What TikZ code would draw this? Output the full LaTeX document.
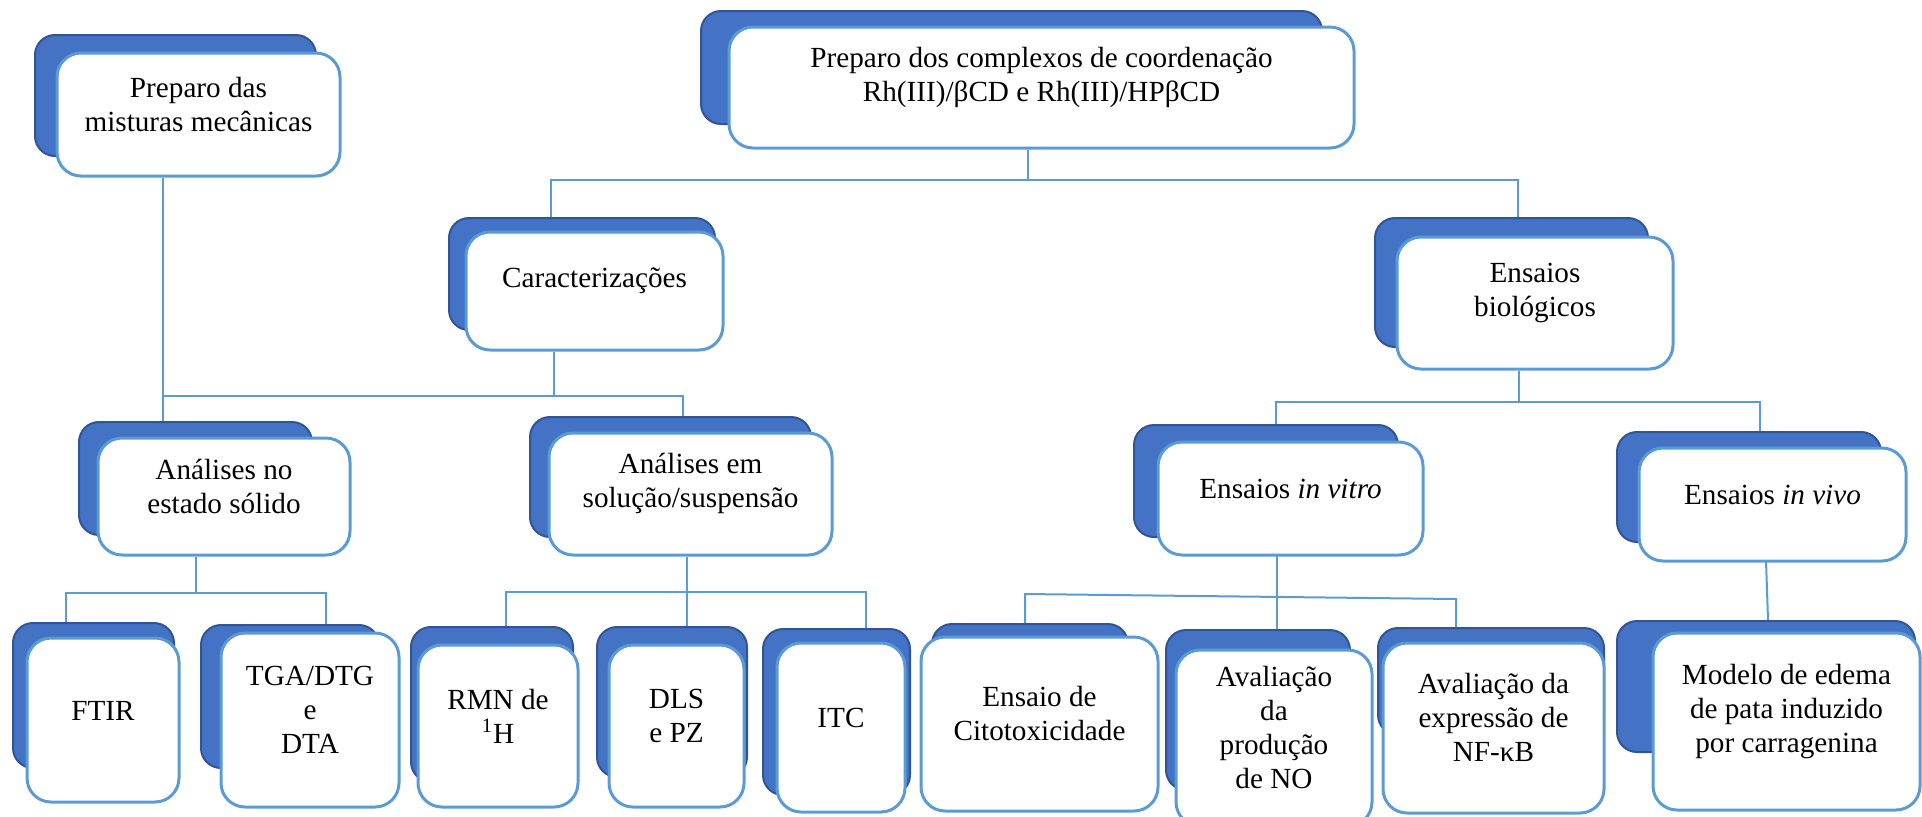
\documentclass[tikz,border=0pt]{standalone}
\usepackage{fontspec}
\setmainfont{Liberation Serif}
\usetikzlibrary{fit}
\definecolor{backblue}{HTML}{4472C4}
\definecolor{backedge}{HTML}{2F5597}
\definecolor{cardedge}{HTML}{5B9BD5}
\tikzset{x=0.5pt, y=-0.5pt,
    every node/.style={
        font=\fontsize{14.6}{17}\selectfont},
    back/.style={
        fill=backblue,
        draw=backedge,
        line width=1pt,
        rounded corners=10pt,
        inner sep=0pt},
    card/.style={
        fill=white,
        draw=cardedge,
        line width=1.5pt,
        rounded corners=12pt,
        inner sep=0pt,
        align=center},
    link/.style={
        draw=cardedge,
        line width=1pt}}

\begin{document}
\begin{tikzpicture}
        \useasboundingbox (0,0) rectangle (1922,816);
        \node[back, fit={(35,35) (316,156)}] (mixB) {};
        \node[card, fit={(57,53) (340,176)}] (mix) {Preparo das\\misturas mecânicas};
        \node[back, fit={(701,11) (1322,124)}] (prepB) {};
        \node[card, fit={(729,27) (1354,148)}] (prep) {Preparo dos complexos de coordenação\\Rh(III)/βCD e Rh(III)/HPβCD};
        \node[back, fit={(449,218) (715,330)}] (caracB) {};
        \node[card, fit={(466,232) (723,350)}] (carac) {Caracterizações};
        \node[back, fit={(1375,218) (1648,347)}] (bioB) {};
        \node[card, fit={(1397,237) (1673,369)}] (bio) {Ensaios\\biológicos};
        \node[back, fit={(79,422) (312,535)}] (solidoB) {};
        \node[card, fit={(98,438) (350,555)}] (solido) {Análises no\\estado sólido};
        \node[back, fit={(530,417) (811,537)}] (solucaoB) {};
        \node[card, fit={(549,433) (832,555)}] (solucao) {Análises em\\solução/suspensão};
        \node[back, fit={(1134,425) (1398,537)}] (vitroB) {};
        \node[card, fit={(1158,442) (1423,555)}] (vitro) {Ensaios \textit{in vitro}};
        \node[back, fit={(1617,432) (1881,542)}] (vivoB) {};
        \node[card, fit={(1639,448) (1906,561)}] (vivo) {Ensaios \textit{in vivo}};
        \node[back, fit={(13,623) (174,768)}] (ftirB) {};
        \node[card, fit={(27,638) (179,802)}] (ftir) {FTIR};
        \node[back, fit={(201,625) (379,768)}] (tgaB) {};
        \node[card, fit={(221,633) (399,807)}] (tga) {TGA/DTG\\e\\DTA};
        \node[back, fit={(411,627) (573,782)}] (rmnB) {};
        \node[card, fit={(418,645) (578,807)}] (rmn) {RMN de\\\textsuperscript{1}H};
        \node[back, fit={(597,627) (747,777)}] (dlsB) {};
        \node[card, fit={(609,645) (744,807)}] (dls) {DLS\\e PZ};
        \node[back, fit={(763,629) (910,795)}] (itcB) {};
        \node[card, fit={(777,643) (905,812)}] (itc) {ITC};
        \node[back, fit={(932,624) (1128,760)}] (citoB) {};
        \node[card, fit={(921,637) (1158,811)}] (cito) {Ensaio de\\Citotoxicidade};
        \node[back, fit={(1166,630) (1350,790)}] (prodB) {};
        \node[card, fit={(1176,650) (1372,826)}] (prod) {Avaliação\\da\\produção\\de NO};
        \node[back, fit={(1378,628) (1604,735)}] (nfkbB) {};
        \node[card, fit={(1383,643) (1604,813)}] (nfkb) {Avaliação da\\expressão de\\NF-κB};
        \node[back, fit={(1617,621) (1915,752)}] (modeloB) {};
        \node[card, fit={(1653,633) (1920,810)}] (modelo) {Modelo de edema\\de pata induzido\\por carragenina};
        \coordinate (top) at (1028,180);
        \coordinate (topL) at (551,180);
        \coordinate (topR) at (1518,180);
        \coordinate (midL) at (163,396);
        \coordinate (midC) at (554,396);
        \coordinate (midR) at (683,396);
        \coordinate (solL) at (66,593);
        \coordinate (solC) at (196,593);
        \coordinate (solR) at (326,593);
        \coordinate (susL) at (506,592);
        \coordinate (susC) at (687,592);
        \coordinate (susR) at (866,592);
        \coordinate (bioL) at (1276,402);
        \coordinate (bioC) at (1519,402);
        \coordinate (bioR) at (1760,402);
        \coordinate (vitL) at (1025,594);
        \coordinate (vitR) at (1456,599);
        \coordinate (vitC) at (1277,555);
        \coordinate (vivC) at (1766,561);
        \draw[link] (top |- prep.south) -- (top);
        \draw[link] (topL |- caracB.north) -- (topL) -- (topR) -- (topR |- bioB.north);
        \draw[link] (midL |- mix.south) -- (midL |- solidoB.north);
        \draw[link] (midL) -- (midR) -- (midR |- solucaoB.north);
        \draw[link] (midC |- carac.south) -- (midC);
        \draw[link] (solC |- solido.south) -- (solC);
        \draw[link] (solL |- ftirB.north) -- (solL) -- (solR) -- (solR |- tgaB.north);
        \draw[link] (susC |- solucao.south) -- (susC |- dlsB.north);
        \draw[link] (susL |- rmnB.north) -- (susL) -- (susR) -- (susR |- itcB.north);
        \draw[link] (bioC |- bio.south) -- (bioC);
        \draw[link] (bioL |- vitroB.north) -- (bioL) -- (bioR) -- (bioR |- vivoB.north);
        \draw[link] (vitC) -- (vitC |- prodB.north);
        \draw[link] (vitL |- citoB.north) -- (vitL) -- (vitR) -- (vitR |- nfkbB.north);
        \draw[link] (vivC) -- (modeloB.north -| 1768,0);
    \end{tikzpicture}
\end{document}
